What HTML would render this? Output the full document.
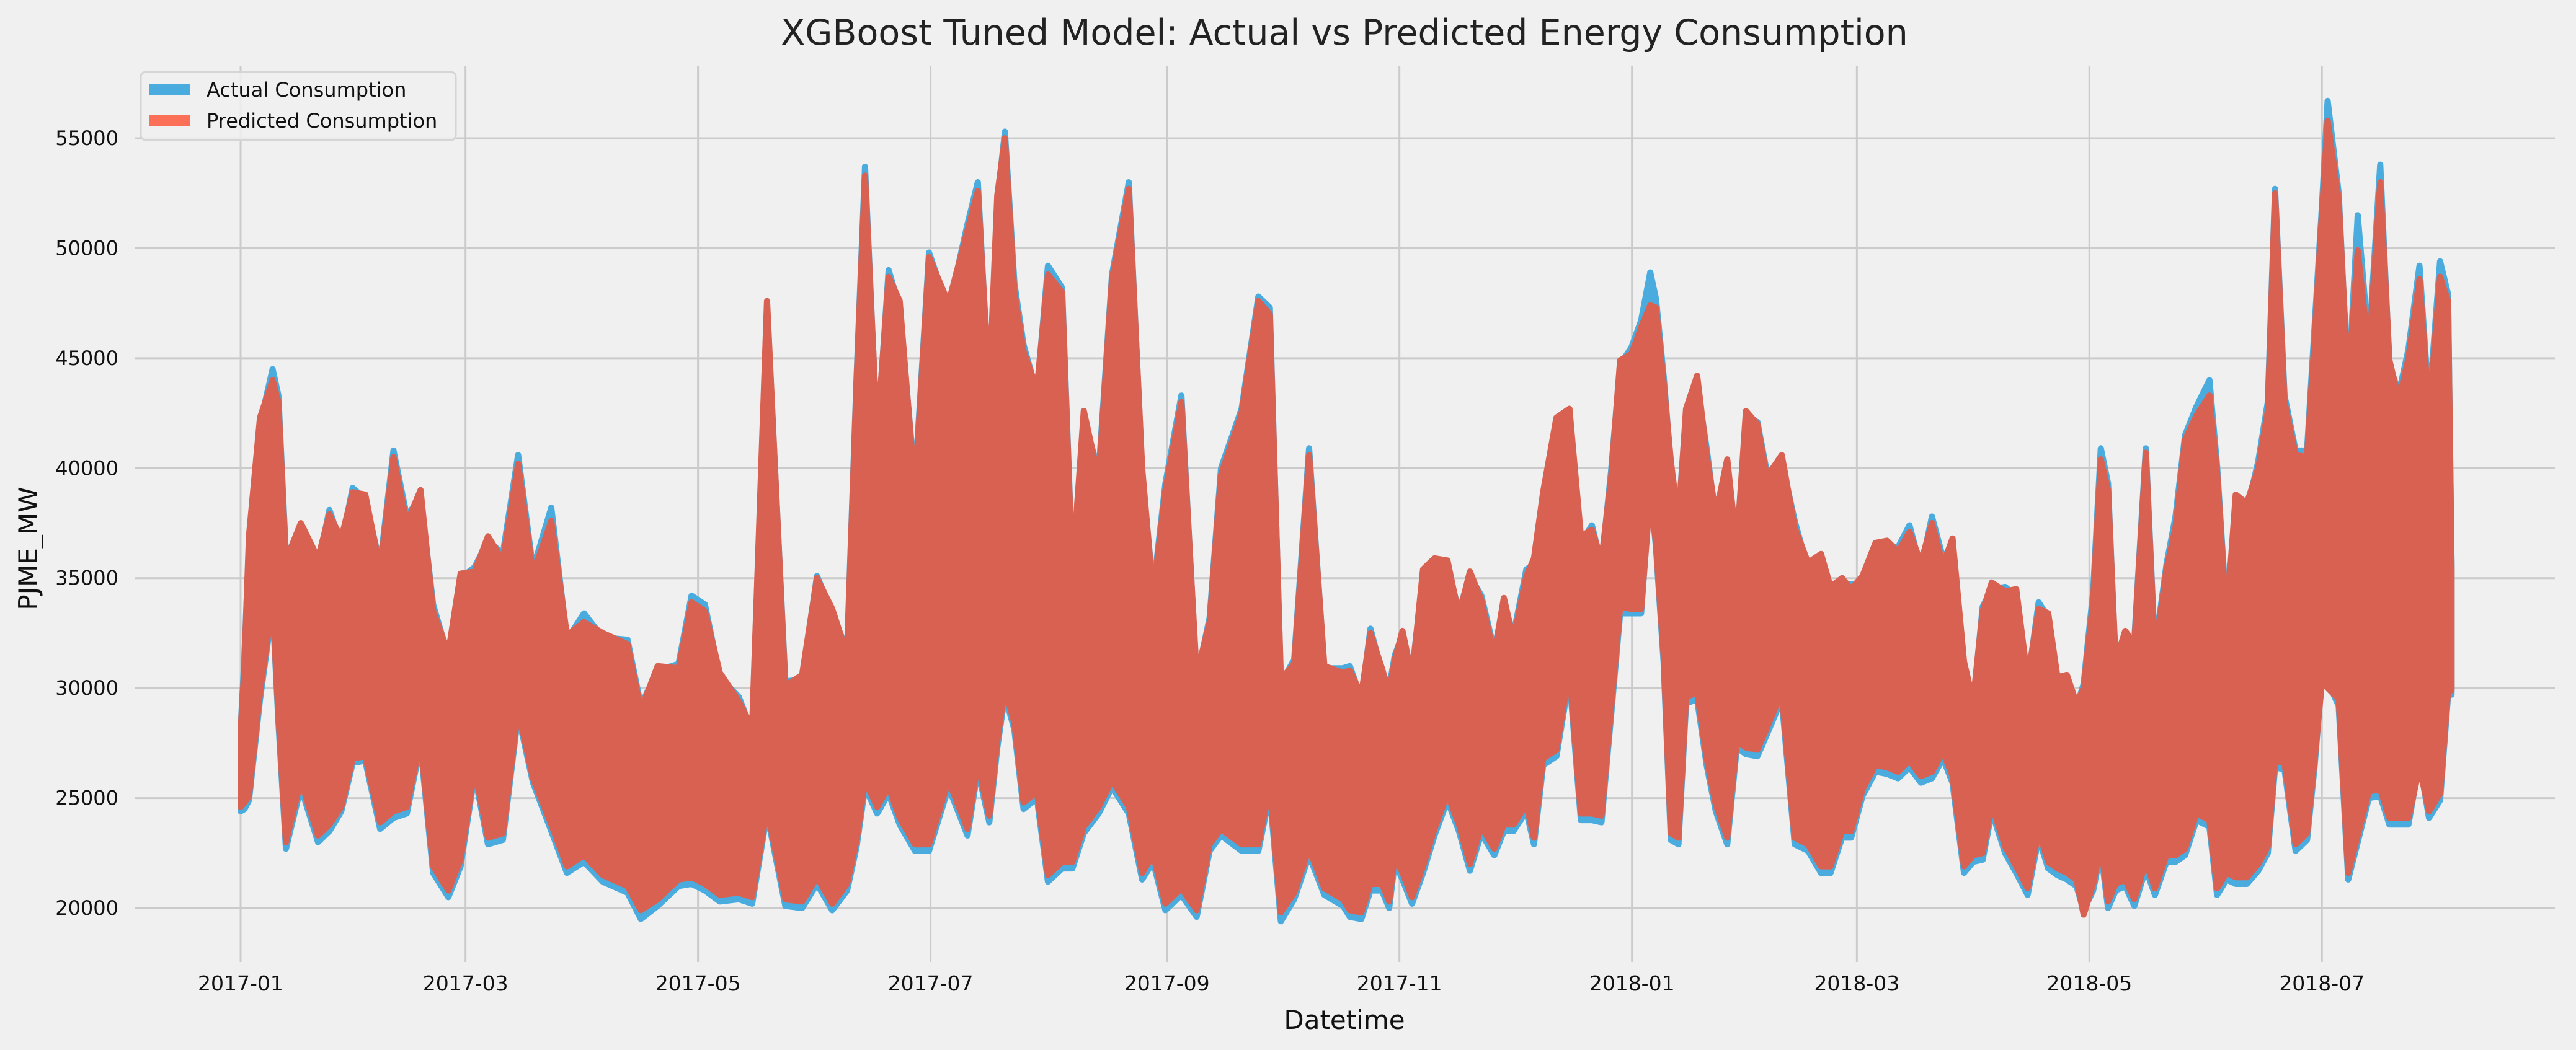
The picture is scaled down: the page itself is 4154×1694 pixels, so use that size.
<!DOCTYPE html>
<html><head><meta charset="utf-8"><style>
html,body{margin:0;padding:0;background:#f0f0f0;}
svg{display:block;font-family:"DejaVu Sans","Liberation Sans",sans-serif;}
</style></head><body>
<svg id="chart" width="4154" height="1694" viewBox="0 0 4154 1694" xmlns="http://www.w3.org/2000/svg">
<rect width="4154" height="1694" fill="#f0f0f0"/>
<g id="grid"></g>
<g id="series"></g>
<g id="ticks"></g>
<text x="2168" y="72" text-anchor="middle" font-size="57" fill="#222">XGBoost Tuned Model: Actual vs Predicted Energy Consumption</text>
<text x="2168" y="1660" text-anchor="middle" font-size="42" fill="#111">Datetime</text>
<text x="0" y="0" transform="translate(60,885) rotate(-90)" text-anchor="middle" font-size="42" fill="#111">PJME_MW</text>
<g>
<rect x="227" y="116" width="508" height="110" rx="8" fill="#f0f0f0" fill-opacity="0.85" stroke="#d5d5d5" stroke-width="3"/>
<rect x="240" y="136" width="67" height="17" fill="#4aacde"/>
<text x="333" y="156" font-size="32" fill="#111">Actual Consumption</text>
<rect x="240" y="186" width="67" height="17" fill="#fc7057"/>
<text x="333" y="206" font-size="32" fill="#111">Predicted Consumption</text>
</g>
</svg>
<script>
// days since 2017-01-01
const days = [0,1,2.2,5.1,8.4,9.9,11.9,15.8,20.3,23.3,26.4,29.4,32.7,36.6,40.1,43.6,47.2,50.5,54.5,57.7,61.4,64.9,68.8,72.8,76.7,81.5,85.6,90.1,95,101.5,105,109.4,114.9,118.3,121.8,125.7,130.7,134.2,138.1,
142.9,147.3,151.2,155.2,159.1,161.6,163.8,167,170,172.9,176.9,180.6,185.7,190.7,193.4,196.4,198.5,200.5,203,205.4,208.9,211.8,215.5,218.2,221.2,225.1,228.6,233,236.5,239.4,242.6,246.8,250.8,254.2,257.2,262.6,267,270,272.9,276.4,280.3,284.3,289.2,
291,294,296.4,299.4,301.3,302.8,304.8,307.3,310.2,313.2,316.6,319.6,322.5,325.5,328.9,331.4,333.9,337.3,339.3,341.7,345.2,348.6,351.6,354.5,357,359.5,361.9,364.9,367.4,369.8,371.3,373.3,375.2,377.2,379.2,382.1,384.6,387,390,392.5,394.9,397.9,400.4,404.3,407.7,411.2,414.6,417.1,420.1,422.5,425.5,428.9,431.9,434.8,437.8,440.8,443.7,
446.6,449.1,452.1,454.5,457,459.4,462.9,465.8,468.8,471.7,474.2,476.6,479.1,481.6,483.5,486,488,489.9,491.9,494.4,496.8,499.8,502.2,505.2,507.6,510.1,513.1,516.5,518.5,521,523.4,526.3,529.3,531.8,533.7,536.2,539.1,542.1,544.1,546,547.5,550.4,552.9,555.4,558.3,561.3,563.7,566.2,568.7,571.6,574.1,577,579.1,580];
// actual consumption (thousand MW)
const actualHighK = [28.1,31.4,36.6,42.0,44.5,43.3,36.0,37.2,35.6,38.1,36.5,39.1,38.6,35.6,40.8,37.8,38.7,33.8,31.4,35.0,35.5,36.7,36.1,40.6,35.4,38.2,32.2,33.4,32.3,32.2,29.2,30.8,31.1,34.2,33.8,30.5,29.6,28.0,47.4,
30.3,30.4,35.1,33.4,31.7,44.2,53.7,41.3,49.0,47.3,39.3,49.8,47.2,51.1,53.0,43.3,52.1,55.3,48.4,45.6,43.4,49.2,48.2,35.4,42.3,39.8,48.8,53.0,39.8,34.4,39.3,43.3,30.4,33.2,40.0,42.7,47.8,47.3,30.2,31.3,40.9,30.9,30.9,
31.0,29.5,32.7,30.7,30.0,31.5,32.4,30.7,35.1,35.6,35.5,33.5,35.1,34.2,31.7,33.9,32.4,35.4,35.6,38.6,42.0,42.5,36.6,37.4,35.6,39.8,44.7,45.5,46.7,48.9,47.7,44.2,40.1,37.8,42.5,43.8,40.9,37.6,40.1,36.6,42.3,42.1,39.8,40.3,37.6,35.4,35.9,34.4,34.8,34.7,34.8,36.4,36.5,36.4,37.4,35.4,37.8,
35.9,36.5,31.0,29.2,33.7,34.5,34.6,34.2,30.2,33.9,33.2,30.2,30.4,29.1,30.2,34.4,40.9,39.3,31.0,32.4,32.2,40.9,31.7,35.6,37.8,41.5,42.8,44.0,40.1,33.3,38.5,38.1,40.3,43.0,52.7,43.3,40.8,40.8,46.5,51.9,56.7,52.5,43.5,51.5,45.5,53.8,44.7,43.4,45.4,49.2,42.8,49.4,47.9,35.6];
const actualLowK = [24.4,24.5,24.9,29.5,33.7,28.5,22.7,25.5,23.0,23.5,24.4,26.6,26.7,23.6,24.1,24.3,27.4,21.6,20.5,21.9,26.1,22.9,23.1,28.8,25.7,23.5,21.6,22.1,21.2,20.7,19.5,20.1,21.0,21.1,20.8,20.3,20.4,20.2,24.3,
20.1,20.0,21.1,19.9,20.8,22.8,25.5,24.3,25.2,23.8,22.6,22.6,25.5,23.3,26.3,23.9,27.3,29.7,28.1,24.5,25.0,21.2,21.8,21.8,23.4,24.3,25.5,24.3,21.3,22.1,19.9,20.6,19.6,22.6,23.3,22.6,22.6,25.2,19.4,20.4,22.4,20.6,20.1,
19.6,19.5,20.8,20.8,20.0,22.1,21.3,20.2,21.6,23.3,24.9,23.5,21.7,23.4,22.4,23.5,23.5,24.4,22.9,26.5,26.9,30.5,24.0,24.0,23.9,28.7,33.4,33.4,33.4,39.1,36.4,31.2,23.1,22.9,29.3,29.5,26.5,24.4,22.9,27.3,27.0,26.9,27.9,29.5,22.9,22.6,21.6,21.6,23.2,23.2,25.1,26.2,26.1,25.9,26.4,25.7,25.9,
26.8,25.7,21.6,22.1,22.2,24.4,22.5,21.6,20.6,23.2,21.8,21.5,21.3,21.0,19.9,20.8,22.6,20.0,20.8,21.0,20.1,21.8,20.6,22.1,22.1,22.4,24.0,23.7,20.6,21.3,21.1,21.1,21.7,22.5,26.4,26.3,22.6,23.1,26.5,30.6,30.3,29.2,21.3,23.0,25.0,25.1,23.8,23.8,23.8,26.7,24.1,24.9,29.7,29.7];
// predicted consumption (thousand MW)
const predictedHighK = [28.0,31.0,36.9,42.3,44.0,43.0,35.8,37.5,35.9,37.9,36.8,38.9,38.8,35.4,40.5,37.5,39.0,33.5,31.6,35.2,35.3,36.9,35.8,40.2,35.2,37.6,32.4,33.0,32.5,32.0,29.0,31.0,30.9,33.9,33.5,30.7,29.4,28.2,47.6,
30.1,30.6,35.0,33.6,31.5,44.0,53.3,41.5,48.7,47.6,39.0,49.6,47.5,50.8,52.6,43.6,52.4,55.0,48.0,45.3,43.6,48.8,48.0,35.2,42.6,39.5,48.6,52.7,40.0,34.2,39.0,43.0,30.6,33.0,39.7,42.5,47.6,47.0,30.4,31.1,40.6,31.0,30.7,
30.8,29.7,32.5,30.9,29.8,31.3,32.6,30.5,35.4,35.9,35.8,33.3,35.3,34.0,31.5,34.1,32.2,35.1,35.9,38.9,42.3,42.7,36.9,37.2,35.8,39.5,44.9,45.2,46.4,47.4,47.3,43.9,40.3,37.5,42.7,44.2,40.6,37.9,40.4,36.4,42.6,42.0,39.6,40.6,37.3,35.7,36.1,34.6,35.0,34.5,35.1,36.6,36.7,36.2,37.1,35.7,37.5,
35.6,36.8,31.2,29.4,33.5,34.8,34.4,34.5,30.4,33.6,33.4,30.5,30.6,29.3,30.0,34.0,40.4,39.0,31.2,32.6,32.0,40.7,31.5,35.4,37.3,41.3,42.4,43.3,39.8,33.1,38.8,38.4,40.0,42.6,52.5,43.0,40.6,40.5,46.0,51.6,55.8,52.2,43.8,49.9,45.2,53.0,44.9,43.1,45.0,48.6,42.5,48.7,47.6,35.4];
const predictedLowK = [24.6,24.8,25.1,29.8,33.9,28.8,23.0,25.8,23.3,23.8,24.6,26.8,26.9,23.9,24.4,24.6,27.6,21.9,20.8,22.2,26.3,23.2,23.4,29.0,25.9,23.8,21.9,22.4,21.5,21.0,19.9,20.4,21.3,21.4,21.1,20.6,20.7,20.5,24.5,
20.4,20.3,21.4,20.2,21.1,23.1,25.8,24.6,25.5,24.1,22.9,22.9,25.8,23.6,26.6,24.2,27.6,30.0,28.4,24.8,25.3,21.5,22.1,22.1,23.7,24.6,25.8,24.6,21.6,22.4,20.2,20.9,19.9,22.9,23.6,22.9,22.9,25.5,19.8,20.7,22.7,20.9,20.4,
19.9,19.8,21.1,21.1,20.3,22.4,21.6,20.5,21.9,23.6,25.2,23.8,22.0,23.7,22.7,23.8,23.8,24.7,23.2,26.8,27.2,30.8,24.3,24.3,24.2,29.0,33.7,33.6,33.6,38.8,36.6,31.5,23.4,23.2,29.6,29.8,26.8,24.7,23.2,27.6,27.3,27.2,28.2,29.8,23.2,22.9,21.9,21.9,23.5,23.5,25.4,26.5,26.4,26.2,26.7,26.0,26.2,
27.1,26.0,21.9,22.4,22.5,24.7,22.8,21.9,20.9,23.5,22.1,21.8,21.6,21.3,19.7,21.1,22.9,20.3,21.1,21.3,20.4,22.1,20.9,22.4,22.4,22.7,24.3,24.0,20.9,21.6,21.4,21.4,22.0,22.8,26.7,26.6,22.9,23.4,26.8,30.3,30.0,29.5,21.6,23.3,25.3,25.4,24.1,24.1,24.1,26.4,24.4,25.2,29.9,29.9];
const yTicks = [20000,25000,30000,35000,40000,45000,50000,55000];
const xTickLabels = ["2017-01","2017-03","2017-05","2017-07","2017-09","2017-11","2018-01","2018-03","2018-05","2018-07"];

const NS = "http://www.w3.org/2000/svg";
const X0 = 388, PX_PER_DAY = 6.147;
const Y0 = 1465, PX_PER_MW = 1242/35000;
function xScale(d){ return X0 + d*PX_PER_DAY; }
function yScale(v){ return Y0 - (v-20000)*PX_PER_MW; }
function dayOf(lbl){ const p=lbl.split("-"); return (Date.UTC(+p[0],+p[1]-1,1)-Date.UTC(2017,0,1))/86400000; }

const grid = document.getElementById("grid");
const ticks = document.getElementById("ticks");
yTicks.forEach(v=>{
  const y = yScale(v);
  const l = document.createElementNS(NS,"line");
  l.setAttribute("x1",217); l.setAttribute("x2",4120); l.setAttribute("y1",y); l.setAttribute("y2",y);
  l.setAttribute("stroke","#cbcbcb"); l.setAttribute("stroke-width","3");
  
  
  grid.appendChild(l);
  const t = document.createElementNS(NS,"text");
  t.setAttribute("x",191); t.setAttribute("y",y+11); t.setAttribute("text-anchor","end");
  t.setAttribute("font-size","32"); t.setAttribute("fill","#111");
  t.textContent = v;
  
  
  ticks.appendChild(t);
});
xTickLabels.forEach(lbl=>{
  const x = xScale(dayOf(lbl));
  const l = document.createElementNS(NS,"line");
  l.setAttribute("x1",x); l.setAttribute("x2",x); l.setAttribute("y1",107); l.setAttribute("y2",1552);
  l.setAttribute("stroke","#cbcbcb"); l.setAttribute("stroke-width","3");
  
  
  grid.appendChild(l);
  const t = document.createElementNS(NS,"text");
  t.setAttribute("x",x); t.setAttribute("y",1598); t.setAttribute("text-anchor","middle");
  t.setAttribute("font-size","33"); t.setAttribute("fill","#111");
  t.textContent = lbl;
  
  
  ticks.appendChild(t);
});

const series = document.getElementById("series");
function drawBand(hi, lo, color, name){
  const pts = [];
  for(let i=0;i<days.length;i++) pts.push(xScale(days[i]).toFixed(1)+","+yScale(hi[i]*1000).toFixed(1));
  for(let i=days.length-1;i>=0;i--) pts.push(xScale(days[i]).toFixed(1)+","+yScale(lo[i]*1000).toFixed(1));
  const p = document.createElementNS(NS,"polygon");
  p.setAttribute("points",pts.join(" "));
  p.setAttribute("fill",color); p.setAttribute("stroke",color);
  p.setAttribute("stroke-width","10"); p.setAttribute("stroke-linejoin","round");
  
  
  series.appendChild(p);
}
drawBand(actualHighK, actualLowK, "#4aacde", "actual-consumption-series");
drawBand(predictedHighK, predictedLowK, "#d96152", "predicted-consumption-series");
</script>
</body></html>
